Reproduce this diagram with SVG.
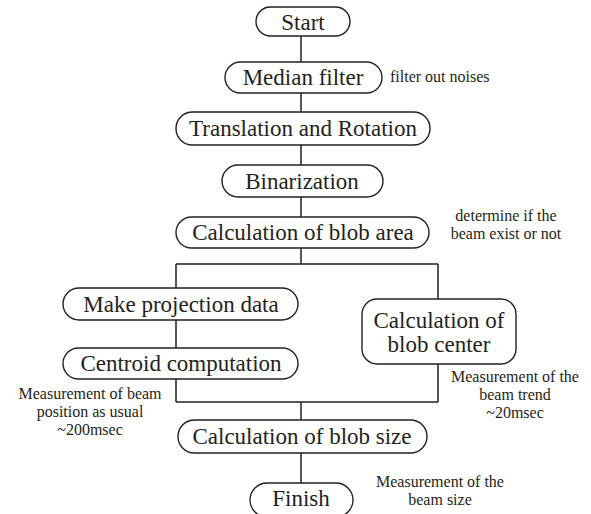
<svg xmlns="http://www.w3.org/2000/svg" width="591" height="514" viewBox="0 0 591 514">
<style>
.box{fill:#fff;stroke:#231f20;stroke-width:1.4}
.ln{fill:none;stroke:#231f20;stroke-width:1.5}
text{font-family:'Times New Roman','Liberation Serif',Times,'Noto Serif','DejaVu Serif',serif;fill:#231f20}
.t{font-size:23px;text-anchor:middle}
.a{font-size:16px;text-anchor:middle}
.al{font-size:16px}
</style>
<rect width="591" height="514" fill="#fff"/>
<g id="connectors">
<path class="ln" d="M301 36V62M301 93V112M301 145V165M301 197V217M301 248V264M176 264H438M176 264V288M438 264V299M176 320V348M176 379V402M438 364V402M176 402H438M301 402V420M301 453V483"/>
</g>
<g id="start"><rect class="box" x="256" y="7" width="94" height="29" rx="14.5"/><text class="t" x="303" y="30">Start</text></g>
<g id="median"><rect class="box" x="225" y="62" width="157" height="31" rx="15.5"/><text class="t" x="303" y="85">Median filter</text></g>
<text class="al" x="390" y="82">filter out noises</text>
<g id="translation"><rect class="box" x="176" y="112" width="254" height="33" rx="16.5"/><text class="t" x="303" y="136">Translation and Rotation</text></g>
<g id="binarization"><rect class="box" x="222" y="165" width="161" height="32" rx="16"/><text class="t" x="302" y="189">Binarization</text></g>
<g id="blobarea"><rect class="box" x="176" y="217" width="253" height="31" rx="15.5"/><text class="t" x="303" y="240">Calculation of blob area</text></g>
<text class="a" x="506" y="221">determine if the</text>
<text class="a" x="506" y="239">beam exist or not</text>
<g id="projection"><rect class="box" x="63" y="288" width="235" height="32" rx="16"/><text class="t" x="181" y="312">Make projection data</text></g>
<g id="centroid"><rect class="box" x="63" y="348" width="235" height="31" rx="15.5"/><text class="t" x="181" y="371">Centroid computation</text></g>
<g id="blobcenter"><rect class="box" x="362" y="299" width="154" height="65" rx="15"/><text class="t" x="439" y="328">Calculation of</text><text class="t" x="439" y="352">blob center</text></g>
<text class="a" x="90" y="399">Measurement of beam</text>
<text class="a" x="90" y="417">position as usual</text>
<text class="a" x="90" y="435">~200msec</text>
<text class="a" x="515" y="382">Measurement of the</text>
<text class="a" x="515" y="400">beam trend</text>
<text class="a" x="515" y="418">~20msec</text>
<g id="blobsize"><rect class="box" x="178" y="420" width="249" height="33" rx="16.5"/><text class="t" x="302" y="444">Calculation of blob size</text></g>
<g id="finish"><rect class="box" x="250" y="483" width="103" height="34" rx="17"/><text class="t" x="301" y="506">Finish</text></g>
<text class="a" x="440" y="487">Measurement of the</text>
<text class="a" x="440" y="505">beam size</text>
</svg>
